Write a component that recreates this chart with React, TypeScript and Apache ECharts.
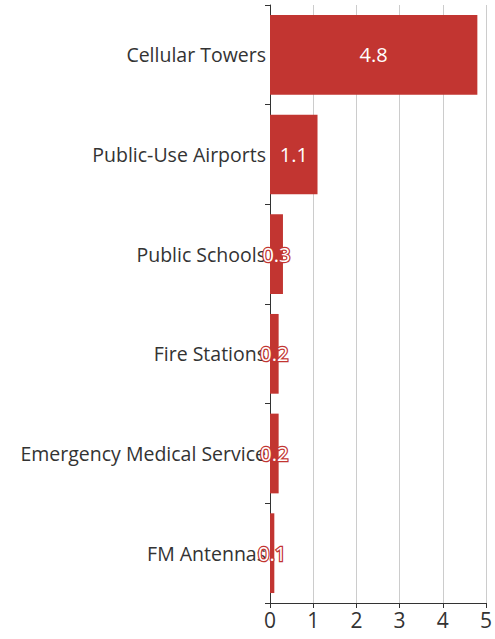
import React, { useEffect, useRef } from "react";
import * as echarts from "echarts";

const categories = [
  "Cellular Towers",
  "Public-Use Airports",
  "Public Schools",
  "Fire Stations",
  "Emergency Medical Service",
  "FM Antennas",
];
const values = [4.8, 1.1, 0.3, 0.2, 0.2, 0.1];
const xTicks = [0, 1, 2, 3, 4, 5];

export default function App() {
  const ref = useRef<HTMLDivElement>(null);
  useEffect(() => {
    if (!ref.current) return;
    const chart = echarts.init(ref.current, null, { renderer: "svg" });
    const font = "'Segoe UI', 'Open Sans', 'Noto Sans', sans-serif";
    chart.setOption({
      animation: false,
      textStyle: { fontFamily: font },
      grid: { left: 270, right: 5, top: 5, bottom: 36, containLabel: false },
      xAxis: {
        type: "value",
        min: xTicks[0],
        max: xTicks[xTicks.length - 1],
        interval: 1,
        axisLine: { show: true, lineStyle: { color: "#333" } },
        axisTick: { show: true, lineStyle: { color: "#333" } },
        axisLabel: { fontSize: 21, color: "#333", fontFamily: font, margin: 6 },
        splitLine: { show: true, lineStyle: { color: "#ccc" } },
      },
      yAxis: {
        type: "category",
        inverse: true,
        data: categories,
        axisLine: { show: true, lineStyle: { color: "#333" } },
        axisTick: { show: true, lineStyle: { color: "#333" } },
        axisLabel: { fontSize: 19.5, color: "#333", fontFamily: font, margin: 4 },
      },
      series: [
        {
          type: "bar",
          data: values,
          barCategoryGap: "20%",
          itemStyle: { color: "#c23531" },
          label: {
            show: true,
            position: "inside",
            fontSize: 20,
            fontFamily: font,
            color: "#fff",
            textBorderColor: "#c23531",
            textBorderWidth: 2.5,
          },
        },
      ],
    });
    return () => chart.dispose();
  }, []);
  return (
    <div
      ref={ref}
      style={{ position: "absolute", left: 0, top: 0, width: 495, height: 639 }}
    />
  );
}
